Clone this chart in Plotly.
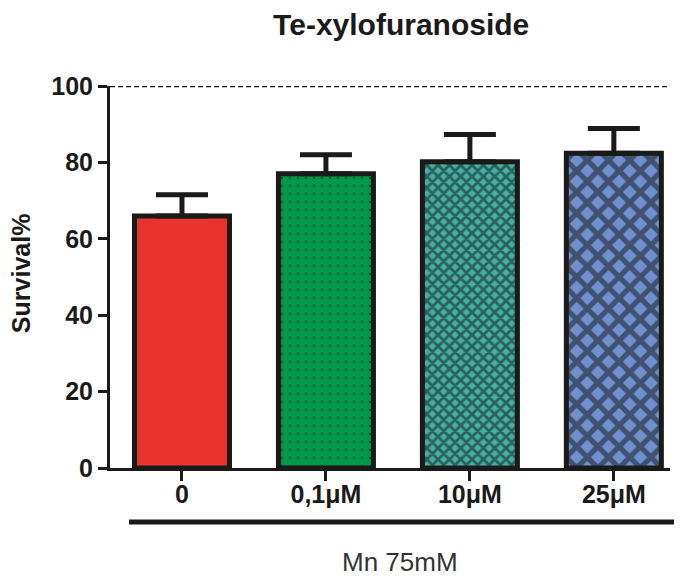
import plotly.graph_objects as go

categories = ["0", "0,1μM", "10μM", "25μM"]
survival = [66.0, 77.0, 80.2, 82.4]
sem = [5.5, 5.0, 7.1, 6.5]
colors = ["#E8342C", "#00994A", "#45B0A5", "#7090D0"]
patterns = ["", ".", "x", "x"]
pattern_sizes = [8, 8, 8, 15]
pattern_solid = [0.3, 0.07, 0.58, 0.58]

fig = go.Figure()
for i, cat in enumerate(categories):
    fig.add_trace(go.Bar(
        x=[cat], y=[survival[i]], width=0.66,
        marker=dict(
            color=colors[i],
            line=dict(color="#1a1a1a", width=5),
            pattern=dict(shape=patterns[i], size=pattern_sizes[i], solidity=pattern_solid[i],
                         fgcolor="#111111", bgcolor=colors[i], fillmode="overlay"),
        ),
        error_y=dict(type="data", symmetric=False, array=[sem[i]], arrayminus=[0],
                     color="#1a1a1a", thickness=5, width=26),
        showlegend=False,
    ))

fig.add_shape(type="line", xref="paper", yref="y", x0=0, x1=1, y0=100, y1=100,
              line=dict(color="#1a1a1a", width=2.5, dash="5px,3px"))
fig.add_shape(type="line", xref="paper", yref="paper", x0=0.034, x1=1.06, y0=-0.1414, y1=-0.1414,
              line=dict(color="#1a1a1a", width=5))
fig.add_annotation(text="Mn 75mM", xref="paper", yref="paper", x=0.518, y=-0.246,
                   showarrow=False, font=dict(size=26, color="#333333", family="Liberation Sans"),
                   xanchor="center", yanchor="middle")
fig.add_annotation(text="Survival%", xref="paper", yref="paper", x=-0.159, y=0.51,
                   textangle=-90, showarrow=False, xanchor="center", yanchor="middle",
                   font=dict(size=25, color="#1a1a1a", family="Liberation Sans", weight="bold"))

fig.update_layout(
    width=674, height=572,
    margin=dict(l=102, r=12, t=78, b=112),
    paper_bgcolor="white", plot_bgcolor="white",
    font=dict(family="Liberation Sans", color="#1a1a1a"),
    barmode="overlay",
    title=dict(text="Te-xylofuranoside", xref="paper", x=0.52, xanchor="center",
               y=0.972, yanchor="middle",
               font=dict(size=30, color="#1a1a1a", weight="bold")),
)
fig.update_xaxes(
    categoryorder="array", categoryarray=categories,
    range=[-0.5, 3.39], showline=True, linecolor="#1a1a1a", linewidth=3,
    ticks="outside", ticklen=10, tickwidth=3, tickcolor="#1a1a1a",
    tickfont=dict(size=25, color="#1a1a1a", family="Liberation Sans", weight="bold"),
    ticklabelstandoff=-8, showgrid=False, zeroline=False,
)
fig.update_yaxes(
    range=[0, 100], tickvals=[0, 20, 40, 60, 80, 100], showline=True,
    linecolor="#1a1a1a", linewidth=3, ticks="outside", ticklen=9, tickwidth=3,
    tickcolor="#1a1a1a",
    tickfont=dict(size=25, color="#1a1a1a", family="Liberation Sans", weight="bold"),
    showgrid=False, zeroline=False,
)

fig.write_html("out.html")
